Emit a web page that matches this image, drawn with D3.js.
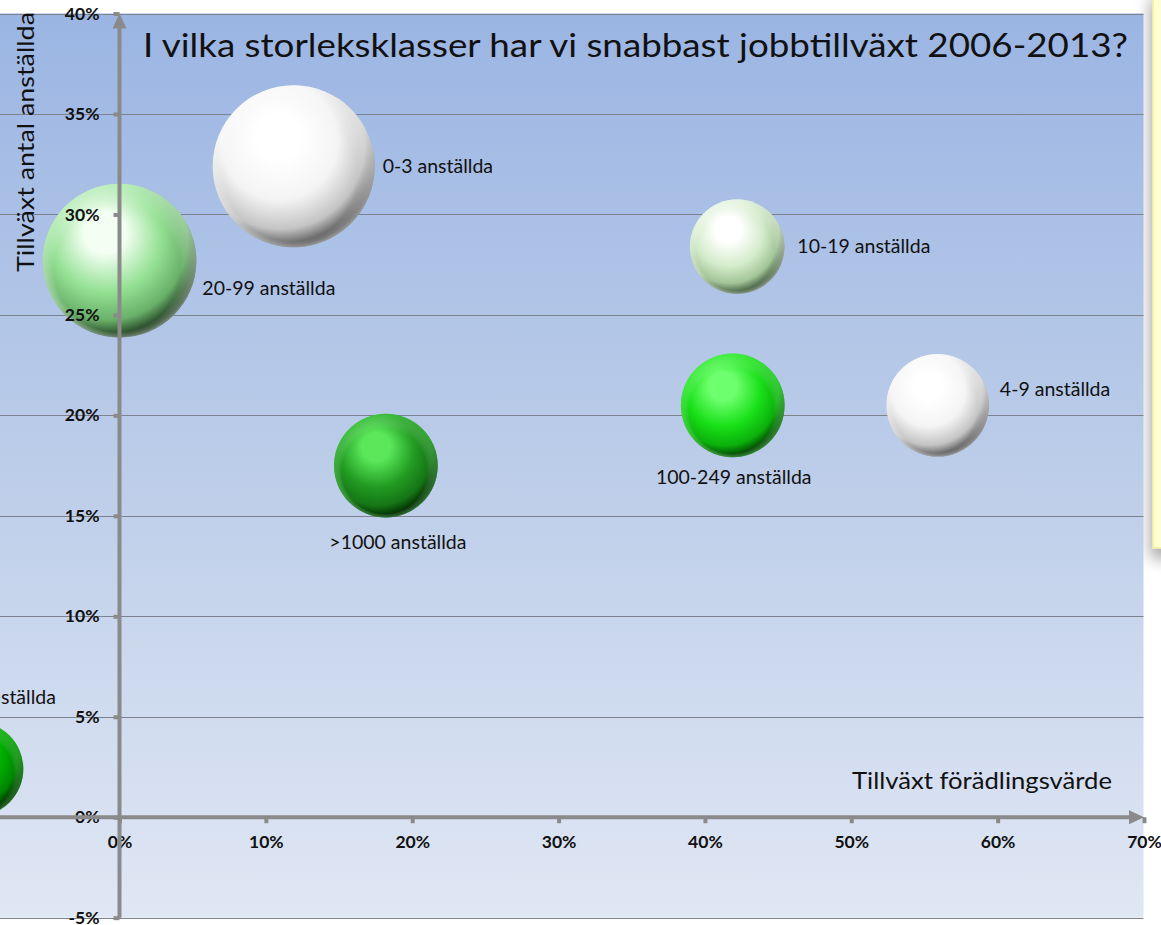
<!DOCTYPE html>
<html>
<head>
<meta charset="utf-8">
<script src="https://cdn.jsdelivr.net/npm/d3@7/dist/d3.min.js"></script>
<style>
  html, body { margin: 0; padding: 0; background: #ffffff; }
  svg { display: block; }
  text { font-family: Lato, "Open Sans", "DejaVu Sans", sans-serif; }
</style>
</head>
<body>
<svg id="chart" width="1161" height="925"></svg>
<script>
// ---- data ----
const categories = ["0-3 anställda", "4-9 anställda", "10-19 anställda", "20-99 anställda",
                    "100-249 anställda", "250-999 anställda", ">1000 anställda"];
const growthValueAdded = [11.9, 55.9, 42.2, 0.0, 41.9, -9.8, 18.2];     // x, %
const growthEmployees  = [32.4, 20.5, 28.4, 27.7, 20.5, 2.4, 17.5];     // y, %
const bubbleSize       = [100, 40, 34, 90, 41, 34, 41];                 // relative size
const xTicks = [0, 10, 20, 30, 40, 50, 60, 70];
const yTicks = [-5, 0, 5, 10, 15, 20, 25, 30, 35, 40];

const title = "I vilka storleksklasser har vi snabbast jobbtillväxt 2006-2013?";
const xTitle = "Tillväxt förädlingsvärde";
const yTitle = "Tillväxt antal anställda";

// ---- styles (kept separate from data) ----
const bubbleStyle = [
  { hi: "#ffffff", base: "#f4f4f4", mid: "#c4c4c4", dark: "#555555" },
  { hi: "#ffffff", base: "#f4f4f4", mid: "#c4c4c4", dark: "#555555" },
  { hi: "#ffffff", base: "#d4eccb", mid: "#a3c598", dark: "#3f5a3b" },
  { hi: "#f2fff2", base: "#93e093", mid: "#69b069", dark: "#1f3a1f" },
  { hi: "#6dff6d", base: "#18e018", mid: "#0cb00c", dark: "#003d00" },
  { hi: "#3ee03e", base: "#00b000", mid: "#008400", dark: "#002800" },
  { hi: "#5ae85a", base: "#229c22", mid: "#157515", dark: "#002500" }
];
const labelPlace = [
  { anchor: "start",  side: "right", dx: 8,  dy: 7 },
  { anchor: "start",  side: "right", dx: 11, dy: -9 },
  { anchor: "start",  side: "right", dx: 13, dy: 6 },
  { anchor: "start",  side: "right", dx: 6,  dy: 34 },
  { anchor: "middle", side: "below", dx: 1,  dy: 27 },
  { anchor: "middle", side: "above", dx: 2,  dy: -18 },
  { anchor: "middle", side: "below", dx: 12, dy: 32 }
];

const svg = d3.select("#chart");
const defs = svg.append("defs");

const x = d3.scaleLinear().domain([0, 70]).range([119.5, 1144]);
const y = d3.scaleLinear().domain([-5, 40]).range([917.7, 13.5]);
const r = d3.scaleSqrt().domain([0, 100]).range([0, 81]);

const plotLeft = 0, plotRight = 1143.5;
const plotTop = y(40), plotBottom = y(-5);

// ---- yellow side box with shadow ----
const shadow = defs.append("filter").attr("id", "boxShadow")
  .attr("x", "-50%").attr("y", "-20%").attr("width", "200%").attr("height", "140%");
shadow.append("feGaussianBlur").attr("in", "SourceAlpha").attr("stdDeviation", 8);
shadow.append("feOffset").attr("dx", -2).attr("dy", 10).attr("result", "ob");
shadow.append("feComponentTransfer").append("feFuncA").attr("type", "linear").attr("slope", 0.35);
const fm = shadow.append("feMerge");
fm.append("feMergeNode");
fm.append("feMergeNode").attr("in", "SourceGraphic");

svg.append("rect")
  .attr("x", 1153).attr("y", -10).attr("width", 40).attr("height", 558)
  .attr("fill", "#ffffd2").attr("stroke", "#f3eca0").attr("stroke-width", 1.5)
  .attr("filter", "url(#boxShadow)");

// ---- plot background gradient ----
const bg = defs.append("linearGradient").attr("id", "bgGrad")
  .attr("x1", 0).attr("y1", 0).attr("x2", 0).attr("y2", 1);
bg.append("stop").attr("offset", "0%").attr("stop-color", "#9bb5e3");
bg.append("stop").attr("offset", "50%").attr("stop-color", "#bccde9");
bg.append("stop").attr("offset", "100%").attr("stop-color", "#e0e7f4");

svg.append("rect")
  .attr("x", plotLeft).attr("y", plotTop)
  .attr("width", plotRight - plotLeft).attr("height", plotBottom - plotTop)
  .attr("fill", "url(#bgGrad)");

const clip = defs.append("clipPath").attr("id", "plotClip");
clip.append("rect").attr("x", plotLeft).attr("y", 0)
  .attr("width", plotRight - plotLeft).attr("height", plotBottom);

// ---- gridlines ----
svg.append("g").selectAll("line").data(yTicks).join("line")
  .attr("x1", plotLeft).attr("x2", plotRight)
  .attr("y1", d => Math.round(y(d)) + 0.5).attr("y2", d => Math.round(y(d)) + 0.5)
  .attr("stroke", "#7d838e").attr("stroke-width", 1);

// ---- title & axis titles ----
svg.append("text")
  .attr("x", 143).attr("y", 57)
  .attr("font-size", 32).attr("fill", "#111")
  .attr("textLength", 985).attr("lengthAdjust", "spacingAndGlyphs")
  .text(title);

svg.append("text")
  .attr("transform", "translate(34,272) rotate(-90)")
  .attr("font-size", 23).attr("fill", "#111")
  .attr("textLength", 260).attr("lengthAdjust", "spacingAndGlyphs")
  .text(yTitle);

svg.append("text")
  .attr("x", 852).attr("y", 789)
  .attr("font-size", 23).attr("fill", "#111")
  .attr("textLength", 260).attr("lengthAdjust", "spacingAndGlyphs")
  .text(xTitle);

// ---- bubbles ----
const data = categories.map((c, i) => ({
  name: c, x: growthValueAdded[i], y: growthEmployees[i], s: bubbleSize[i],
  st: bubbleStyle[i], lp: labelPlace[i], i
}));

data.forEach(d => {
  const g = defs.append("radialGradient").attr("id", "bub" + d.i)
    .attr("cx", "42%").attr("cy", "38%").attr("r", "62%")
    .attr("fx", "40%").attr("fy", "30%");
  g.append("stop").attr("offset", "0%").attr("stop-color", d.st.hi);
  g.append("stop").attr("offset", "22%").attr("stop-color", d.st.hi);
  g.append("stop").attr("offset", "58%").attr("stop-color", d.st.base);
  g.append("stop").attr("offset", "84%").attr("stop-color", d.st.mid);
  g.append("stop").attr("offset", "100%").attr("stop-color", d.st.dark);
  // bottom rim light
  const rim = defs.append("radialGradient").attr("id", "rim" + d.i)
    .attr("cx", "50%").attr("cy", "50%").attr("r", "50%")
    .attr("fx", "42%").attr("fy", "80%");
  rim.append("stop").attr("offset", "0%").attr("stop-color", "#ffffff").attr("stop-opacity", 0);
  rim.append("stop").attr("offset", "82%").attr("stop-color", "#ffffff").attr("stop-opacity", 0);
  rim.append("stop").attr("offset", "100%").attr("stop-color", d.st.hi).attr("stop-opacity", 0.4);
});

const bubbles = svg.append("g").attr("clip-path", "url(#plotClip)");
bubbles.selectAll("circle.b").data(data).join("circle").attr("class", "b")
  .attr("cx", d => x(d.x)).attr("cy", d => y(d.y)).attr("r", d => r(d.s))
  .attr("fill", d => `url(#bub${d.i})`);
bubbles.selectAll("circle.rim").data(data).join("circle").attr("class", "rim")
  .attr("cx", d => x(d.x)).attr("cy", d => y(d.y)).attr("r", d => r(d.s))
  .attr("fill", d => `url(#rim${d.i})`);

// ---- axes ----
const axisColor = "#8a8a8a";
const yAxis = svg.append("g").attr("transform", `translate(${x(0)},0)`)
  .call(d3.axisLeft(y).tickValues(yTicks).tickFormat(d => d + "%").tickSize(6).tickPadding(14));
yAxis.select(".domain").remove();
yAxis.selectAll(".tick line").attr("stroke", axisColor).attr("stroke-width", 4);
yAxis.selectAll(".tick text").attr("font-size", 17.5).attr("font-weight", 700).attr("fill", "#111")
  .attr("font-family", "Lato, 'Open Sans', sans-serif");

const xAxis = svg.append("g").attr("transform", `translate(0,${y(0)})`)
  .call(d3.axisBottom(x).tickValues(xTicks).tickFormat(d => d + "%").tickSize(6).tickPadding(12));
xAxis.select(".domain").remove();
xAxis.selectAll(".tick line").attr("stroke", axisColor).attr("stroke-width", 4);
xAxis.selectAll(".tick text").attr("font-size", 17.5).attr("font-weight", 700).attr("fill", "#111")
  .attr("font-family", "Lato, 'Open Sans', sans-serif");

svg.append("line")
  .attr("x1", x(0)).attr("x2", x(0)).attr("y1", plotBottom).attr("y2", plotTop + 12)
  .attr("stroke", axisColor).attr("stroke-width", 4);
svg.append("path")
  .attr("d", `M${x(0) - 7},${plotTop + 15} L${x(0)},${plotTop} L${x(0) + 7},${plotTop + 15} Z`)
  .attr("fill", axisColor);
svg.append("line")
  .attr("x1", plotLeft).attr("x2", x(70) - 12).attr("y1", y(0)).attr("y2", y(0))
  .attr("stroke", axisColor).attr("stroke-width", 4);
svg.append("path")
  .attr("d", `M${x(70) - 15},${y(0) - 7} L${x(70)},${y(0)} L${x(70) - 15},${y(0) + 7} Z`)
  .attr("fill", axisColor);

// ---- bubble labels ----
svg.append("g").selectAll("text").data(data).join("text")
  .attr("font-size", 19.5).attr("fill", "#111")
  .attr("text-anchor", d => d.lp.anchor)
  .attr("x", d => {
    const cx = x(d.x), rr = r(d.s);
    return d.lp.side === "right" ? cx + rr + d.lp.dx : cx + d.lp.dx;
  })
  .attr("y", d => {
    const cy = y(d.y), rr = r(d.s);
    if (d.lp.side === "below") return cy + rr + d.lp.dy;
    if (d.lp.side === "above") return cy - rr + d.lp.dy;
    return cy + d.lp.dy;
  })
  .text(d => d.name);
</script>
</body>
</html>
